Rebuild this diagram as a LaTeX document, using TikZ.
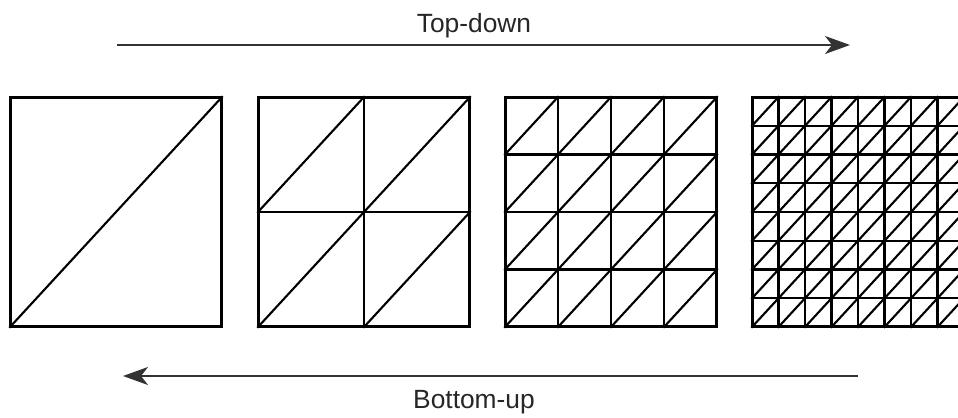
\documentclass[tikz,border=0pt]{standalone}
\usepackage{fontspec}
\setmainfont{Liberation Sans}
\usepackage{tikz}
\usetikzlibrary{arrows.meta, positioning}

\begin{document}
\begin{tikzpicture}[
    x=0.02cm, y=-0.02cm,
    cellline/.style={line width=1.2pt, line cap=rect, color=black},
    lbl/.style={font=\fontsize{15}{18}\selectfont, inner sep=0pt, anchor=base, color=black!85},
    flowarr/.style={-{Stealth[length=0.5cm, width=0.36cm, inset=0.14cm]}, line width=1pt, color=black!80},
]
\useasboundingbox (0,0) rectangle (958,417);
\clip (0,0) rectangle (958,417);

% --- Refinement levels: 1x1, 2x2, 4x4, 8x8 ---
\foreach \n/\lx in {1/10, 2/258, 4/505, 8/752} {
  \pgfmathsetmacro{\cw}{212/\n}
  \pgfmathsetmacro{\ch}{230/\n}
  \pgfmathtruncatemacro{\m}{\n-1}
  \node[draw, cellline, inner sep=0pt, minimum width=212*0.02cm-1.2pt,
        minimum height=230*0.02cm-1.2pt, anchor=north west] (level\n) at (\lx,97) {};
  \foreach \i in {0,...,\n} {
    \draw[cellline] ({\lx+\i*\cw},97) -- ({\lx+\i*\cw},327);
    \draw[cellline] (\lx,{97+\i*\ch}) -- ({\lx+212},{97+\i*\ch});
  }
  \foreach \i in {0,...,\m}
    \foreach \j in {0,...,\m}
      \draw[cellline] ({\lx+\i*\cw},{97+(\j+1)*\ch}) -- ({\lx+(\i+1)*\cw},{97+\j*\ch});
}

% --- Labels ---
\node[lbl] (topdown) at (474,32) {Top-down};
\node[lbl] (bottomup) at (474,408) {Bottom-up};

% --- Arrows ---
\coordinate (td-start) at (117,45);
\coordinate (td-end) at (850,45);
\coordinate (bu-start) at (858,376);
\coordinate (bu-end) at (123,376);
\draw[flowarr] (td-start) -- (td-end);
\draw[flowarr] (bu-start) -- (bu-end);

\end{tikzpicture}
\end{document}
